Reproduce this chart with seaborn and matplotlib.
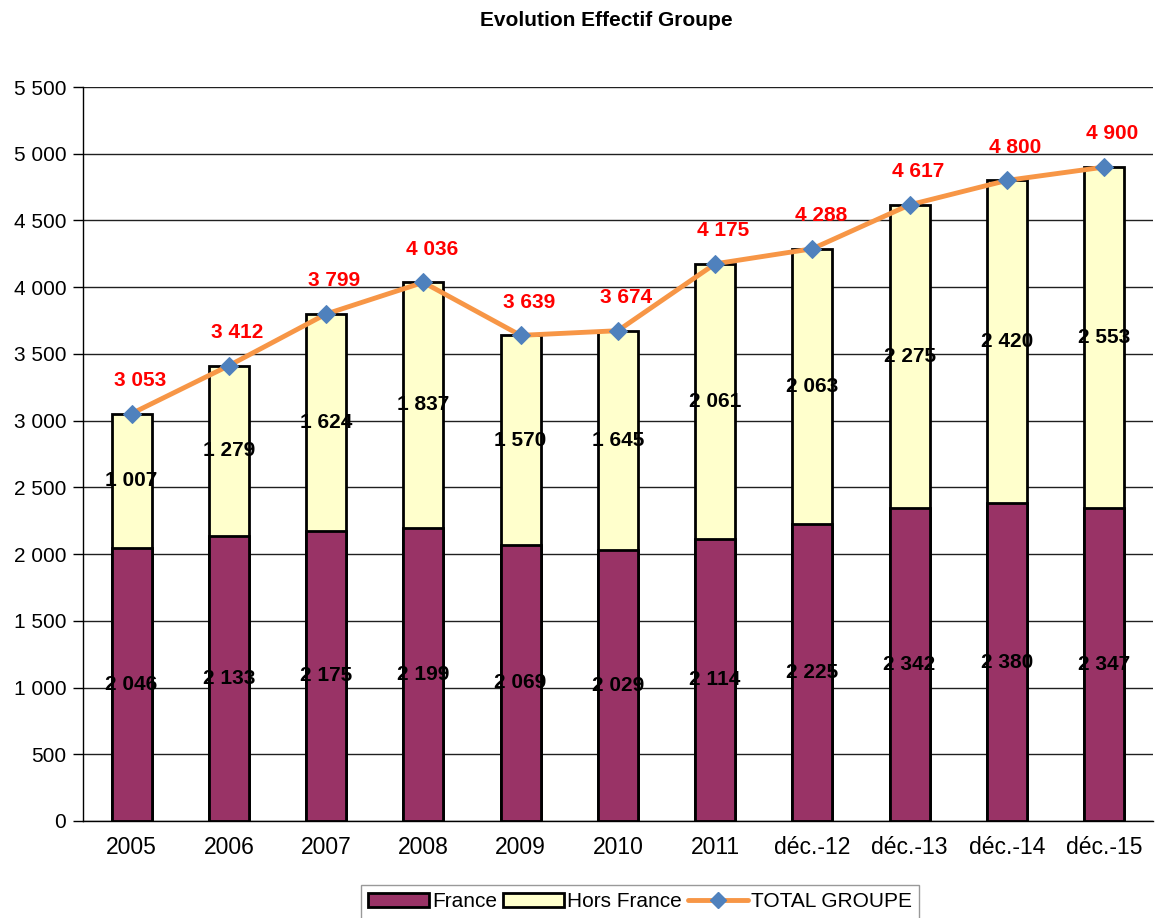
import numpy as np
import pandas as pd
import seaborn as sns
import matplotlib.pyplot as plt
from matplotlib.patches import Patch
from matplotlib.lines import Line2D

# data
years = ["2005", "2006", "2007", "2008", "2009", "2010", "2011",
         "déc.-12", "déc.-13", "déc.-14", "déc.-15"]
france = [2046, 2133, 2175, 2199, 2069, 2029, 2114, 2225, 2342, 2380, 2347]
hors_france = [1007, 1279, 1624, 1837, 1570, 1645, 2061, 2063, 2275, 2420, 2553]
total = [3053, 3412, 3799, 4036, 3639, 3674, 4175, 4288, 4617, 4800, 4900]

df = pd.DataFrame({"year": years, "France": france, "Hors France": hors_france, "TOTAL": total})


def fmt(v):
    return f"{v:,}".replace(",", " ")


sns.set_style("white")
plt.rcParams['font.family'] = ['Liberation Sans', 'DejaVu Sans']
plt.rcParams['text.color'] = 'black'
plt.rcParams['xtick.color'] = 'black'
plt.rcParams['ytick.color'] = 'black'

fig = plt.figure(figsize=(11.62, 9.18), dpi=100)
ax = fig.add_axes([0.0714, 0.1057, 0.9206, 0.7995])

col_fr = "#993366"
col_hf = "#FFFFCC"
col_line = "#F79646"
col_mark = "#4F81BD"

# stacked bars: full total in yellow, France on top of it from zero
sns.barplot(data=df, x="year", y="TOTAL", color=col_hf, width=0.41,
            edgecolor="black", linewidth=2, saturation=1, ax=ax, zorder=2)
sns.barplot(data=df, x="year", y="France", color=col_fr, width=0.41,
            edgecolor="black", linewidth=2, saturation=1, ax=ax, zorder=3)

xs = np.arange(len(years))
sns.lineplot(x=xs, y=total, color=col_line, linewidth=3.5, marker="D",
             markersize=9, markerfacecolor=col_mark, markeredgecolor=col_mark,
             ax=ax, zorder=5)

for i in range(len(years)):
    ax.text(i, france[i] / 2, fmt(france[i]), ha="center", va="center",
            fontsize=15, fontweight="bold", color="black", zorder=6)
    ax.text(i, france[i] + hors_france[i] / 2, fmt(hors_france[i]), ha="center",
            va="center", fontsize=15, fontweight="bold", color="black", zorder=6)
    ax.annotate(fmt(total[i]), (i, total[i]), xytext=(6, 24), textcoords="offset points",
                ha="center", va="center", fontsize=15, fontweight="bold",
                color="red", zorder=6)

ax.set_xlim(-0.5, len(years) - 0.5)
ax.set_ylim(0, 5500)
ax.set_yticks(range(0, 5501, 500))
ax.set_yticklabels([fmt(v) for v in range(0, 5501, 500)], fontsize=15)
ax.set_xticks(xs)
ax.set_xticklabels(years, fontsize=16.5)
ax.set_xticks(np.arange(-0.5, len(years), 1), minor=True)
ax.tick_params(axis="x", which="major", length=0, pad=11)
ax.tick_params(axis="x", which="minor", length=8, width=1, color="black", direction="out")
ax.tick_params(axis="y", length=7, width=1, color="black", direction="out", left=True, pad=5)
ax.yaxis.grid(True, color="#202020", linewidth=1)
ax.set_axisbelow(True)
ax.set_xlabel("")
ax.set_ylabel("")
for s in ["top", "right"]:
    ax.spines[s].set_visible(False)
for s in ["left", "bottom"]:
    ax.spines[s].set_color("black")
    ax.spines[s].set_linewidth(1)

fig.suptitle("Evolution Effectif Groupe", fontsize=15, fontweight="bold", x=0.522, y=0.988)

handles = [Patch(facecolor=col_fr, edgecolor="black", linewidth=2, label="France"),
           Patch(facecolor=col_hf, edgecolor="black", linewidth=2, label="Hors France"),
           Line2D([0], [0], color=col_line, linewidth=3.5, marker="D", markersize=8,
                  markerfacecolor=col_mark, markeredgecolor=col_mark, label="TOTAL GROUPE")]
leg = fig.legend(handles=handles, loc="lower center", bbox_to_anchor=(0.551, -0.012), ncol=3,
                 fontsize=15, frameon=True, fancybox=False, handlelength=2.9,
                 handletextpad=0.15, columnspacing=0.3, borderpad=0.35)
leg.get_frame().set_edgecolor("#808080")
leg.get_frame().set_linewidth(1)

fig.savefig("out.png", dpi=100)
